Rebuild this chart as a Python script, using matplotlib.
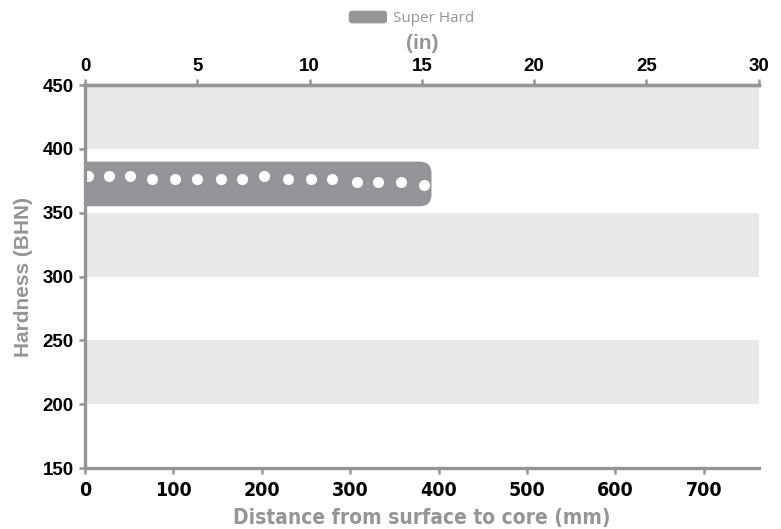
import matplotlib.pyplot as plt
from matplotlib.patches import FancyBboxPatch, Patch
from matplotlib.legend_handler import HandlerPatch

# hardness readings along the depth
depth_mm = [3, 27, 51, 76, 102, 127, 154, 178, 203, 230, 256, 280, 308, 332, 357, 384]
hardness = [379, 379, 379, 376, 376, 376, 376, 376, 379, 376, 376, 376, 374, 374, 374, 372]

# "Super Hard" band
band_label = "Super Hard"
band_start, band_end = 0, 392
band_low, band_high = 355, 390

# shaded background stripes
stripes = [(400, 450), (300, 350), (200, 250)]

grey = "#939598"
stripe_col = "#e8e9eb"
helv = ["Liberation Sans", "DejaVu Sans"]

fig = plt.figure(figsize=(7.81, 5.29), dpi=100)
ax = fig.add_axes([0.1088, 0.1153, 0.8625, 0.724])

for lo, hi in stripes:
    ax.axhspan(lo, hi, color=stripe_col, lw=0, zorder=0)

ax.set_xlim(0, 762)
ax.set_ylim(150, 450)

# rounded bar (aspect corrected so corners look round in pixels)
aspect = (673.6 / 762) / (383 / 300)
bar = FancyBboxPatch((band_start - 30, band_low), band_end - band_start + 30,
                     band_high - band_low,
                     boxstyle="round,pad=0,rounding_size=13",
                     mutation_aspect=aspect, fc=grey, ec="none", zorder=2)
ax.add_patch(bar)

ax.plot(depth_mm, hardness, "o", color="white", ms=8, mec="none", zorder=3)

ax.spines["right"].set_visible(False)
for s in ["left", "top", "bottom"]:
    ax.spines[s].set_color(grey)
    ax.spines[s].set_linewidth(2.4)
    ax.spines[s].set_zorder(4)

ax.set_yticks(range(150, 451, 50))
ax.set_xticks(range(0, 701, 100))
ax.tick_params(colors=grey, width=1.8, length=4, labelcolor="black")
ax.tick_params(axis="x", pad=5)
ax.tick_params(axis="y", pad=4)
for lab in ax.get_yticklabels():
    lab.set_fontfamily(helv)
    lab.set_fontweight("bold")
    lab.set_fontsize(13.5)
for lab in ax.get_xticklabels():
    lab.set_fontfamily("DejaVu Sans")
    lab.set_fontstretch("condensed")
    lab.set_fontweight("bold")
    lab.set_fontsize(14)

ax.set_xlabel("Distance from surface to core (mm)", color=grey, fontsize=15,
              fontweight="bold", family="DejaVu Sans", fontstretch="condensed",
              labelpad=6)
ax.set_ylabel("Hardness (BHN)", color=grey, fontsize=15, fontweight="bold",
              family=helv, labelpad=7)

top = ax.secondary_xaxis("top", functions=(lambda x: x / 25.4, lambda x: x * 25.4))
top.set_xticks(range(0, 31, 5))
top.spines["top"].set_color(grey)
top.spines["top"].set_linewidth(2.4)
top.tick_params(colors=grey, width=1.8, length=4, labelcolor="black", pad=3)
for lab in top.get_xticklabels():
    lab.set_fontfamily(helv)
    lab.set_fontweight("bold")
    lab.set_fontsize(13.5)
top.set_xlabel("(in)", color=grey, fontsize=15, fontweight="bold",
               family=helv, labelpad=7)


class RoundHandler(HandlerPatch):
    def create_artists(self, legend, orig_handle, xdescent, ydescent,
                       width, height, fontsize, trans):
        p = FancyBboxPatch((-xdescent, -ydescent), width, height,
                           boxstyle="round,pad=0,rounding_size=2.5",
                           fc=grey, ec="none", transform=trans)
        return [p]


handle = Patch(color=grey, label=band_label)
leg = fig.legend(handles=[handle], loc="center", bbox_to_anchor=(0.527, 0.965),
                 frameon=False, handler_map={Patch: RoundHandler()},
                 handlelength=2.5, handleheight=0.9, handletextpad=0.4,
                 prop={"family": ["Open Sans", "DejaVu Sans"], "size": 11})
for t in leg.get_texts():
    t.set_color(grey)

fig.savefig("out.png", dpi=100)
